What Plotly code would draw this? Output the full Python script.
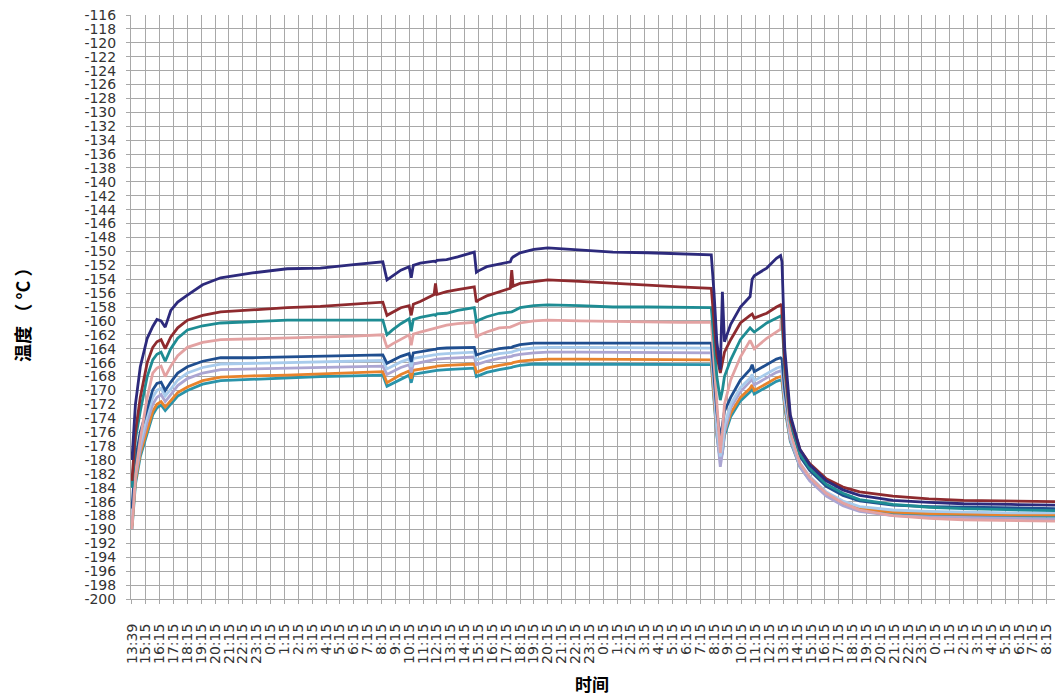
import plotly.graph_objects as go

# x positions in category (hour-label) units
time_idx = [0.0, 0.1, 0.25, 0.6, 1.1, 1.5, 1.8, 2.1, 2.4, 2.8,
            3.3, 4.0, 5.1, 6.4, 8.7, 11.2, 13.6, 16.0, 18.1, 18.4,
            18.8, 19.4, 20.0, 20.15, 20.3, 20.8, 21.8, 21.9, 22.0, 22.7,
            23.5, 24.7, 24.85, 25.0, 25.6, 26.5, 27.3, 27.4, 27.5, 28.0,
            29.0, 30.0, 32.3, 34.7, 37.2, 39.5, 41.8,
            42.0, 42.2, 42.45, 42.6, 42.75, 43.2, 43.9, 44.6, 44.75, 44.9,
            45.8, 46.5, 46.8, 46.9, 47.1, 47.5, 48.2, 48.9, 50.1, 51.3,
            52.5, 54.9, 57.5, 60.0, 63.4, 66.6]

navy = [-180, -177, -172, -166.6, -162.5, -160.8, -159.8, -160.0, -160.9, -158.5,
        -157.3, -156.3, -154.8, -153.8, -153.1, -152.5, -152.4, -151.9, -151.5, -154.1,
        -153.5, -152.7, -152.2, -153.8, -152.0, -151.7, -151.4, -151.5, -151.3, -151.2,
        -150.8, -150.1, -153.0, -152.8, -152.2, -151.8, -151.5, -151.0, -150.8, -150.2,
        -149.7, -149.5, -149.8, -150.1, -150.2, -150.4, -150.5,
        -156, -163, -167, -155.8, -163, -160.5, -158, -156.5, -154, -153.5,
        -152.4, -151, -150.6, -151.5, -164, -173.5, -178.5, -180.7, -183, -184.3,
        -185.1, -185.8, -186.1, -186.3, -186.4, -186.5]

dark_red = [-183, -180, -176, -171, -166, -163.8, -163.0, -162.7, -164.0, -162.3,
            -161.0, -159.9, -159.2, -158.7, -158.4, -158.1, -157.9, -157.6, -157.3, -159.2,
            -158.8, -158.1, -157.8, -159.2, -157.6, -157.2, -156.2, -154.6, -156.2, -155.8,
            -155.5, -155.1, -157.3, -157.0, -156.4, -155.8, -155.3, -152.7, -155.0, -154.6,
            -154.3, -154.1, -154.3, -154.6, -154.9, -155.1, -155.3,
            -160, -165, -167.5, -166, -164.5, -162.7, -160.3, -159.2, -159.0, -159.6,
            -158.9, -158.0, -157.7, -158.0, -166, -174, -178.5, -180.5, -182.7, -183.9,
            -184.6, -185.2, -185.6, -185.8, -185.9, -186.0]

teal = [-184, -181, -177, -173, -168, -165.6, -164.8, -164.5, -165.8, -164.0,
        -162.5, -161.3, -160.7, -160.3, -160.1, -159.9, -159.9, -159.9, -159.9, -162.0,
        -161.3, -160.4, -159.7, -161.5, -159.8, -159.5, -159.1, -159.2, -159.0, -158.9,
        -158.5, -158.1, -160.1, -159.9, -159.4, -158.9, -158.8, -158.7, -158.6, -158.1,
        -157.8, -157.7, -157.8, -158.0, -158.0, -158.1, -158.1,
        -163, -168, -171.4, -170, -168, -165.6, -162.7, -161.0, -161.3, -161.6,
        -160.3, -159.6, -159.3, -159.6, -167, -174.5, -179.2, -181.2, -183.5, -184.8,
        -185.7, -186.4, -186.8, -187.0, -187.2, -187.3]

pink = [-190, -187, -182, -177, -171, -167.5, -166.8, -166.5, -168.0, -166.5,
        -165.0, -163.8, -163.1, -162.7, -162.6, -162.5, -162.4, -162.2, -162.0, -163.8,
        -163.3, -162.6, -162.0, -163.5, -161.9, -161.6, -161.1, -161.1, -161.0, -160.6,
        -160.4, -160.2, -162.4, -162.1, -161.6, -161.0, -160.9, -160.8, -160.7, -160.3,
        -160.0, -159.9, -160.0, -160.1, -160.1, -160.2, -160.2,
        -166, -173, -179, -176, -172, -168.5, -165.2, -162.8, -163.5, -164.0,
        -162.5, -161.5, -161.2, -157.5, -168, -176, -180.5, -182.5, -184.8, -186.2,
        -187.2, -188.0, -188.4, -188.6, -188.7, -188.8]

dark_blue = [-187, -184, -180, -176, -172.5, -169.9, -169.0, -168.8, -170.0, -168.8,
             -167.5, -166.6, -165.8, -165.3, -165.3, -165.2, -165.1, -165.0, -164.9, -166.1,
             -165.7, -165.1, -164.7, -165.9, -164.6, -164.4, -164.1, -164.1, -164.0, -163.9,
             -163.9, -163.8, -164.9, -164.8, -164.4, -164.0, -163.9, -163.8, -163.7, -163.4,
             -163.2, -163.2, -163.2, -163.2, -163.2, -163.2, -163.2,
             -168, -173, -177, -175, -173, -171, -168.5, -167, -166.3, -167.3,
             -166.3, -165.5, -165.3, -165.5, -170, -175.5, -179.5, -181.5, -183.8, -185.1,
             -185.9, -186.5, -186.7, -186.8, -186.9, -187.0]

light_blue = [-188, -185.5, -181.5, -177.5, -173.5, -171.0, -170.0, -169.7, -170.8, -169.8,
              -168.5, -167.5, -166.7, -166.2, -166.1, -166.0, -165.9, -165.8, -165.7, -166.9,
              -166.5, -165.9, -165.5, -166.6, -165.4, -165.2, -164.9, -164.9, -164.8, -164.7,
              -164.6, -164.5, -165.6, -165.5, -165.1, -164.7, -164.6, -164.5, -164.4, -164.1,
              -163.9, -163.8, -163.8, -163.8, -163.9, -163.9, -163.9,
              -169, -175, -179.5, -178, -175, -172, -169.6, -168.2, -167.7, -168.6,
              -167.6, -166.8, -166.6, -166.8, -171, -176.5, -180.5, -182.4, -184.6, -185.9,
              -186.7, -187.2, -187.4, -187.5, -187.6, -187.6]

lavender = [-189, -186.5, -182.5, -178.5, -174.5, -172.0, -171.0, -170.6, -171.6, -170.6,
            -169.3, -168.3, -167.5, -167.0, -166.9, -166.8, -166.7, -166.6, -166.5, -167.7,
            -167.3, -166.7, -166.3, -167.4, -166.2, -166.0, -165.6, -165.6, -165.5, -165.4,
            -165.3, -165.2, -166.3, -166.2, -165.8, -165.4, -165.2, -165.1, -165.0, -164.8,
            -164.6, -164.5, -164.5, -164.5, -164.5, -164.6, -164.6,
            -170, -176, -181, -179, -176, -172.5, -170.2, -168.8, -168.4, -169.2,
            -168.2, -167.4, -167.2, -167.4, -171.5, -177, -181, -183, -185.2, -186.6,
            -187.4, -188.0, -188.2, -188.3, -188.4, -188.5]

orange = [-189.5, -187, -183, -179, -175.5, -173.0, -172.0, -171.6, -172.4, -171.5,
          -170.3, -169.5, -168.6, -168.1, -167.9, -167.8, -167.6, -167.5, -167.3, -168.9,
          -168.4, -167.7, -167.2, -168.3, -167.1, -166.9, -166.6, -166.6, -166.5, -166.4,
          -166.3, -166.2, -167.4, -167.3, -166.8, -166.4, -166.2, -166.1, -166.0, -165.8,
          -165.6, -165.5, -165.5, -165.5, -165.5, -165.6, -165.6,
          -171, -176, -179.5, -178.5, -176, -173.3, -171, -169.7, -169.2, -170,
          -169, -168.2, -168.0, -168.2, -172, -177, -180.8, -182.7, -184.9, -186.2,
          -187.0, -187.5, -187.7, -187.8, -187.9, -187.9]

teal_blue = [-190, -187.5, -183.5, -179.5, -176, -173.5, -172.5, -172.1, -172.9, -172.0,
             -170.8, -170.0, -169.1, -168.6, -168.4, -168.2, -168.0, -167.9, -167.8, -169.4,
             -169.0, -168.3, -167.8, -168.9, -167.7, -167.5, -167.2, -167.2, -167.1, -167.0,
             -166.9, -166.8, -168.0, -167.9, -167.4, -167.0, -166.8, -166.7, -166.6, -166.4,
             -166.2, -166.2, -166.2, -166.2, -166.2, -166.3, -166.3,
             -171.5, -176.5, -180, -179, -176.5, -173.8, -171.5, -170.2, -169.7, -170.5,
             -169.5, -168.7, -168.5, -168.7, -172.5, -177.3, -181, -182.9, -185.1, -186.4,
             -187.2, -187.7, -187.9, -188.0, -188.1, -188.1]

# tick labels
x_tick_labels = (["13:39"]
                 + [f"{h}:15" for h in range(15, 24)]
                 + [f"{h}:15" for h in range(0, 24)]
                 + [f"{h}:15" for h in range(0, 24)]
                 + [f"{h}:15" for h in range(0, 9)])
y_tick_values = list(range(-200, -114, 2))
y_tick_labels = [str(v) for v in y_tick_values]

series = [
    ("teal_blue", teal_blue, "#2A94AA"),
    ("orange", orange, "#E8832C"),
    ("lavender", lavender, "#ABA5D2"),
    ("light_blue", light_blue, "#A8CBEC"),
    ("dark_blue", dark_blue, "#1F4E8F"),
    ("pink", pink, "#E3A2A2"),
    ("teal", teal, "#1E8C93"),
    ("dark_red", dark_red, "#8E2A2E"),
    ("navy", navy, "#2D2A7C"),
]

fig = go.Figure()
for name, vals, color in series:
    fig.add_trace(go.Scatter(x=time_idx, y=vals, mode="lines", name=name,
                             line=dict(color=color, width=2.8), showlegend=False))

fig.update_layout(
    width=1055, height=698,
    margin=dict(l=131, r=0, t=15, b=99, autoexpand=False),
    paper_bgcolor="white", plot_bgcolor="white",
    font=dict(family="DejaVu Sans", color="#333333"),
)
fig.update_xaxes(
    automargin=False,
    range=[-0.07, 66.6],
    tickmode="array", tickvals=list(range(len(x_tick_labels))), ticktext=x_tick_labels,
    tickangle=-90, tickfont=dict(size=14, family="DejaVu Sans", color="#333333"),
    ticklabelstandoff=14,
    showgrid=True, gridcolor="#A8A8A8", gridwidth=1,
    ticks="outside", ticklen=4, tickcolor="#A8A8A8",
    showline=True, linecolor="#A8A8A8", zeroline=False,
)
fig.update_yaxes(
    automargin=False,
    range=[-200, -116],
    tickmode="array", tickvals=y_tick_values, ticktext=y_tick_labels,
    tickfont=dict(size=14, family="DejaVu Sans", color="#333333"),
    ticklabelstandoff=7,
    showgrid=True, gridcolor="#A8A8A8", gridwidth=1,
    ticks="outside", ticklen=4, tickcolor="#A8A8A8",
    showline=True, linecolor="#A8A8A8", zeroline=False,
)
fig.add_annotation(text="<b>温度 （ °C ）</b>", xref="paper", yref="paper",
                   x=-0.118, y=0.495, xanchor="center", yanchor="middle",
                   textangle=-90, showarrow=False,
                   font=dict(family="Noto Sans CJK SC", size=18, color="#000000"))
fig.add_annotation(text="<b>时间</b>", xref="paper", yref="paper",
                   x=0.499, y=-0.144, xanchor="center", yanchor="middle",
                   showarrow=False,
                   font=dict(family="Noto Sans CJK SC", size=17, color="#000000"))

fig.write_html("out.html", config={"displayModeBar": False},
               post_script="document.body.style.margin='0';document.body.style.overflow='hidden';")
